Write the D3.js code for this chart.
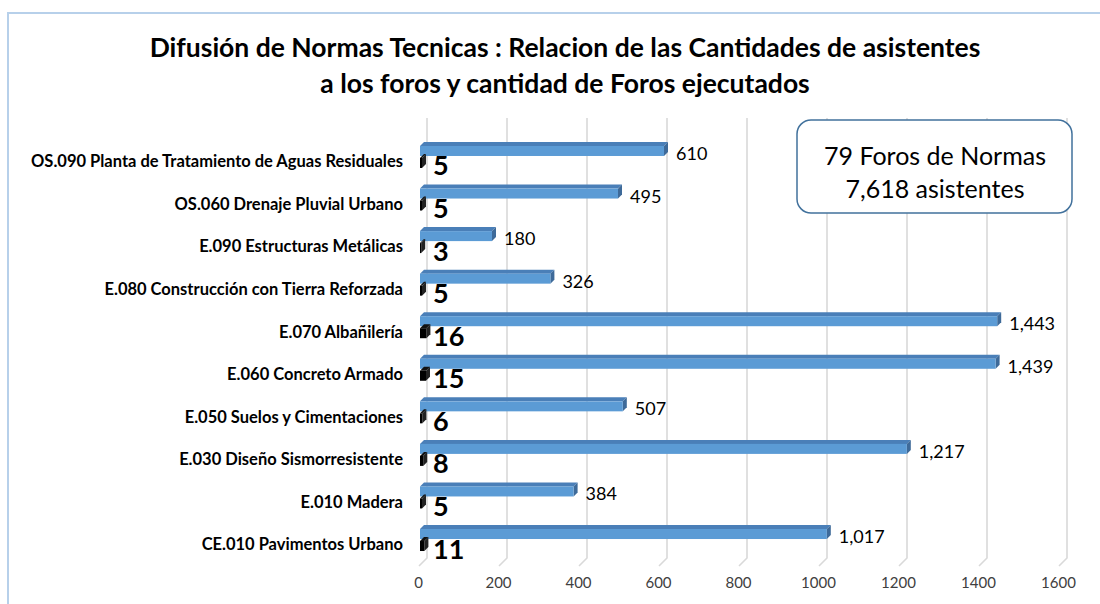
<!DOCTYPE html>
<html>
<head>
<meta charset="utf-8">
<script src="https://cdn.jsdelivr.net/npm/d3@7"></script>
<style>
  html, body { margin: 0; padding: 0; background: #fff; }
  svg { display: block; font-family: Lato, "Open Sans", sans-serif; }
</style>
</head>
<body>
<div id="chart"></div>
<script>
// chart data, top to bottom
const categories = [
  "OS.090 Planta de Tratamiento de Aguas Residuales",
  "OS.060 Drenaje Pluvial Urbano",
  "E.090 Estructuras Metálicas",
  "E.080 Construcción con Tierra Reforzada",
  "E.070 Albañilería",
  "E.060 Concreto Armado",
  "E.050 Suelos y Cimentaciones",
  "E.030 Diseño Sismorresistente",
  "E.010 Madera",
  "CE.010 Pavimentos Urbano"
];
const asistentes = [610, 495, 180, 326, 1443, 1439, 507, 1217, 384, 1017];
const foros = [5, 5, 3, 5, 16, 15, 6, 8, 5, 11];
const xTicks = [0, 200, 400, 600, 800, 1000, 1200, 1400, 1600];
const titleLines = [
  "Difusión de Normas Tecnicas : Relacion de las Cantidades de asistentes",
  "a los foros y cantidad de Foros ejecutados"
];
const boxLines = ["79 Foros de Normas", "7,618 asistentes"];

const width = 1100;
const height = 604;
const depth = 4; // 3d offset of the bars
const wallDx = 7; // offset of the back wall gridlines

const svg = d3.select("#chart")
  .append("svg")
  .attr("width", width)
  .attr("height", height);

// outer frame (only top and left edges are visible)
svg.append("path")
  .attr("d", "M8,604 L8,13 L1100,13")
  .attr("fill", "none")
  .attr("stroke", "#b7d0ea")
  .attr("stroke-width", 2);

const xScale = d3.scaleLinear().domain([0, 1600]).range([420, 1060]);
const yScale = d3.scaleBand().domain(categories).range([140.7, 566.3]).padding(0);
const yc = (d) => yScale(d) + yScale.bandwidth() / 2;

// title
svg.append("g")
  .selectAll("text")
  .data(titleLines)
  .join("text")
  .attr("x", 565)
  .attr("y", (d, i) => 47 + i * 36)
  .attr("text-anchor", "middle")
  .attr("dominant-baseline", "central")
  .attr("font-size", 26.5)
  .attr("font-weight", "bold")
  .attr("fill", "#000")
  .text((d) => d);

// gridlines on back wall + floor diagonals
const grid = svg.append("g").attr("class", "gridlines");
grid.selectAll("path")
  .data(xTicks)
  .join("path")
  .attr("d", (d) => `M${xScale(d) + wallDx},118 L${xScale(d) + wallDx},558 L${xScale(d) - 1},566`)
  .attr("fill", "none")
  .attr("stroke", "#d9d9d9")
  .attr("stroke-width", 1.6);

// x axis labels
const xAxis = d3.axisBottom(xScale).tickValues(xTicks).tickFormat(d3.format("d")).tickSize(0).tickPadding(0);
svg.append("g")
  .attr("transform", "translate(-2, 577)")
  .call(xAxis)
  .call((g) => g.select(".domain").remove())
  .call((g) => g.selectAll("text")
    .attr("font-family", "Lato, sans-serif")
    .attr("font-size", 15)
    .attr("fill", "#404040"));

// y axis labels
const yAxis = d3.axisLeft(yScale).tickSize(0).tickPadding(0);
svg.append("g")
  .attr("transform", "translate(403, 0)")
  .call(yAxis)
  .call((g) => g.select(".domain").remove())
  .call((g) => g.selectAll("text")
    .attr("font-family", "Lato, sans-serif")
    .attr("font-size", 16.5)
    .attr("font-weight", "bold")
    .attr("fill", "#000"));

// draws a 3d-ish bar: front, top and right side faces
function bar3d(g, x0, x1, y0, h, colors) {
  g.append("path")
    .attr("d", `M${x0},${y0} L${x0 + depth},${y0 - depth} L${x1 + depth},${y0 - depth} L${x1},${y0} Z`)
    .attr("fill", colors.top);
  g.append("path")
    .attr("d", `M${x1},${y0} L${x1 + depth},${y0 - depth} L${x1 + depth},${y0 + h - depth} L${x1},${y0 + h} Z`)
    .attr("fill", colors.side);
  g.append("rect")
    .attr("x", x0)
    .attr("y", y0)
    .attr("width", x1 - x0)
    .attr("height", h)
    .attr("fill", colors.front);
}

const rows = categories.map((c, i) => ({ cat: c, asis: asistentes[i], foros: foros[i] }));

const barsG = svg.append("g").attr("class", "bars");
rows.forEach((d) => {
  const c = yc(d.cat);
  const g = barsG.append("g");
  bar3d(g, xScale(0), xScale(d.asis), c - 16, 10,
    { front: "#5b9bd5", top: "#4a7fb8", side: "#3e6a99" });
  bar3d(g, xScale(0), xScale(d.foros), c - 4, 10,
    { front: "#000", top: "#111", side: "#222" });
});

// value labels for asistentes
svg.append("g")
  .selectAll("text")
  .data(rows)
  .join("text")
  .attr("x", (d) => xScale(d.asis) + 12)
  .attr("y", (d) => yc(d.cat) - 9)
  .attr("dominant-baseline", "central")
  .attr("font-size", 18)
  .attr("fill", "#000")
  .text((d) => d3.format(",")(d.asis));

// value labels for foros
svg.append("g")
  .selectAll("text")
  .data(rows)
  .join("text")
  .attr("x", 433)
  .attr("y", (d) => yc(d.cat) + 3)
  .attr("dominant-baseline", "central")
  .attr("font-size", 27)
  .attr("font-weight", "bold")
  .attr("fill", "#000")
  .text((d) => d.foros);

// annotation box
const box = svg.append("g").attr("class", "note");
box.append("rect")
  .attr("x", 797)
  .attr("y", 120)
  .attr("width", 275)
  .attr("height", 93)
  .attr("rx", 14)
  .attr("fill", "#fff")
  .attr("stroke", "#41719c")
  .attr("stroke-width", 1.5);
box.selectAll("text")
  .data(boxLines)
  .join("text")
  .attr("x", 935)
  .attr("y", (d, i) => 155 + i * 33)
  .attr("text-anchor", "middle")
  .attr("dominant-baseline", "central")
  .attr("font-size", 25)
  .attr("fill", "#000")
  .text((d) => d);
</script>
</body>
</html>
